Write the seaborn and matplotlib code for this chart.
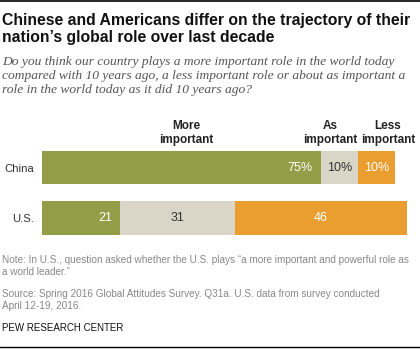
import numpy as np
import pandas as pd
import seaborn as sns
import matplotlib.pyplot as plt

countries = ["China", "U.S."]
more_imp = [75, 21]
as_imp = [10, 31]
less_imp = [10, 46]
labels_china = ["75%", "10%", "10%"]
labels_us = ["21", "31", "46"]
headers = ["More\nimportant", "As\nimportant", "Less\nimportant"]
header_x = [38.7, 77.4, 93.0]

green = "#949d48"
beige = "#d9d6c7"
orange = "#ea9e2f"

sns.set_theme(style="white")
plt.rcParams['font.family'] = ['Liberation Sans', 'DejaVu Sans']

W, H = 420, 350
fig = plt.figure(figsize=(4.2, 3.5), dpi=100)

def fx(px):
    return px / W

def fy(py):
    return 1 - py / H

df = pd.DataFrame({"country": countries, "more": more_imp, "as": as_imp, "less": less_imp})
df["c1"] = df["more"]
df["c2"] = df["more"] + df["as"]
df["c3"] = df["c2"] + df["less"]

scale = 3.72
ax = fig.add_axes([fx(42), fy(243), fx(100 * scale), 100.5 / H])
for col, c in [("c3", orange), ("c2", beige), ("c1", green)]:
    sns.barplot(data=df, x=col, y="country", color=c, orient="h", width=0.67,
                saturation=1, ax=ax, edgecolor="none")
ax.set_xlim(0, 100)
ax.set_ylim(1.5, -0.5)
ax.set_xlabel("")
ax.set_ylabel("")
ax.set_xticks([])
ax.tick_params(axis="y", length=0, pad=6, labelsize=8.2, labelcolor="#333333")
sns.despine(ax=ax, left=True, bottom=True)

# segment labels
for i, labs in enumerate([labels_china, labels_us]):
    r = df.iloc[i]
    ax.text(r["c1"] - 2.2, i, labs[0], ha="right", va="center", color="white", fontsize=9)
    ax.text((r["c1"] + r["c2"]) / 2, i, labs[1], ha="center", va="center", color="#333333", fontsize=9)
    ax.text((r["c2"] + r["c3"]) / 2, i, labs[2], ha="center", va="center", color="white", fontsize=9)

for hx, h in zip(header_x, headers):
    ax.text(hx, -0.5 + 0.06, h, ha="center", va="bottom", fontsize=8.5,
            fontweight="bold", color="#222222", linespacing=1.2)

# title block
fig.add_artist(plt.Line2D([0, 1], [fy(1), fy(1)], color="black", lw=1.2))
fig.text(fx(2), fy(13), "Chinese and Americans differ on the trajectory of their\nnation\u2019s global role over last decade",
         ha="left", va="top", fontsize=11.3, fontweight="bold", color="#111111", linespacing=1.2)
fig.text(fx(2), fy(56), "Do you think our country plays a more important role in the world today\n"
         "compared with 10 years ago, a less important role or about as important a\n"
         "role in the world today as it did 10 years ago?",
         ha="left", va="top", fontsize=9.7, style="italic", color="#555555",
         family=["Liberation Serif", "DejaVu Serif"], linespacing=1.2)

fig.text(fx(2), fy(255), "Note: In U.S., question asked whether the U.S. plays \u201ca more important and powerful role as\na world leader.\u201d",
         ha="left", va="top", fontsize=7.2, color="#888888", linespacing=1.3)
fig.text(fx(2), fy(289), "Source: Spring 2016 Global Attitudes Survey. Q31a. U.S. data from survey conducted\nApril 12-19, 2016.",
         ha="left", va="top", fontsize=7.2, color="#888888", linespacing=1.3)
fig.text(fx(2), fy(323), "PEW RESEARCH CENTER", ha="left", va="top", fontsize=7.0, color="#111111")
fig.add_artist(plt.Line2D([0, 1], [fy(347), fy(347)], color="black", lw=1.0))

fig.savefig("out.png", dpi=100)
